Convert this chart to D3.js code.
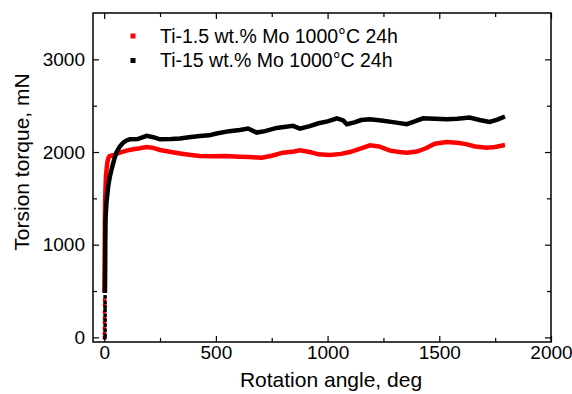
<!DOCTYPE html>
<html>
<head>
<meta charset="utf-8">
<script src="https://cdn.jsdelivr.net/npm/d3@7"></script>
<style>
  body { margin: 0; background: #fff; }
  svg { display: block; font-family: "Liberation Sans", Arial, sans-serif; }
</style>
</head>
<body>
<div id="chart"></div>
<script>
// Ti-1.5 wt.% Mo: sparse start points, then the continuous curve [angle, torque]
const redStart = [[0, 0], [0, 47], [0, 100], [0.5, 165], [0.5, 210], [0.5, 275], [1, 350], [1, 405]]
const redCurve = [[1, 480], [2, 800], [3, 1200], [4, 1455], [6, 1620], [8, 1740], [11, 1820], [15, 1900],
  [20, 1940], [25, 1957], [40, 1965], [70, 1993], [100, 2015], [130, 2029], [160, 2040], [190, 2054],
  [220, 2045], [250, 2022], [300, 2000], [339, 1985], [380, 1970], [428, 1957], [480, 1955], [540, 1958],
  [607, 1950], [650, 1945], [705, 1939], [750, 1960], [800, 1993], [850, 2005], [876, 2018], [920, 2000],
  [960, 1975], [1010, 1967], [1060, 1980], [1100, 2000], [1150, 2040], [1190, 2072], [1230, 2060],
  [1280, 2015], [1320, 2000], [1355, 1993], [1400, 2005], [1440, 2040], [1480, 2090], [1534, 2108],
  [1580, 2100], [1620, 2085], [1660, 2060], [1713, 2047], [1750, 2055], [1794, 2075]]

// Ti-15 wt.% Mo
const blackStart = [[2, 0], [3, 25], [3, 80], [3, 135], [3, 190], [3, 240], [3, 295], [3, 330], [3, 380], [3, 440]]
const blackCurve = [[3.5, 480], [4, 600], [5, 1000], [6, 1270], [10, 1450], [18, 1631], [25, 1730], [33, 1812],
  [45, 1920], [55, 1995], [70, 2060], [85, 2100], [100, 2125], [115, 2137], [150, 2140], [190, 2175],
  [220, 2160], [250, 2137], [300, 2140], [339, 2145], [380, 2160], [428, 2173], [470, 2180], [503, 2199],
  [560, 2225], [607, 2238], [644, 2253], [682, 2210], [720, 2225], [772, 2260], [845, 2282], [876, 2253],
  [920, 2280], [960, 2310], [1000, 2330], [1042, 2364], [1070, 2340], [1086, 2300], [1120, 2320],
  [1150, 2345], [1190, 2353], [1240, 2340], [1300, 2320], [1355, 2300], [1390, 2330], [1427, 2364],
  [1480, 2358], [1534, 2353], [1580, 2360], [1636, 2372], [1680, 2345], [1725, 2325], [1760, 2350], [1794, 2383]]

const xMajor = [0, 500, 1000, 1500, 2000]
const xMinor = [250, 750, 1250, 1750]
const yMajor = [0, 1000, 2000, 3000]
const yMinor = [500, 1500, 2500]

const series = [
  { name: "Ti-1.5 wt.% Mo 1000°C 24h", color: "#ff0000", start: redStart, curve: redCurve },
  { name: "Ti-15 wt.% Mo 1000°C 24h", color: "#000000", start: blackStart, curve: blackCurve },
]

const W = 572, H = 394
const m = { left: 93, top: 13, right: 21, bottom: 52 }
const iw = W - m.left - m.right
const ih = H - m.top - m.bottom

const svg = d3.select("#chart").append("svg").attr("width", W).attr("height", H)
const g = svg.append("g").attr("transform", `translate(${m.left},${m.top})`)

const x = d3.scaleLinear().domain([-50, 2000]).range([0, iw])
const y = d3.scaleLinear().domain([-50, 3500]).range([ih, 0])

const line = d3.line().x((d) => x(d[0])).y((d) => y(d[1]))

series.forEach((s) => {
  g.append("path")
    .datum(s.curve)
    .attr("d", line)
    .attr("fill", "none")
    .attr("stroke", s.color)
    .attr("stroke-width", 4.5)
  g.append("g")
    .selectAll("rect")
    .data(s.start)
    .join("rect")
    .attr("x", (d) => x(d[0]) - 1.5)
    .attr("y", (d) => y(d[1]) - 1.5)
    .attr("width", 3.5)
    .attr("height", 3.5)
    .attr("fill", s.color)
})

// axes, ticks inward on all four sides
function styleAxis(sel) {
  sel.select(".domain").remove()
  sel.selectAll("line").attr("stroke", "#000").attr("stroke-width", 1.2)
  sel.selectAll("text").attr("font-size", "19px").attr("fill", "#000")
}

g.append("g").attr("transform", `translate(0,${ih})`)
  .call(d3.axisBottom(x).tickValues(xMajor).tickSize(-6).tickPadding(4).tickFormat(d3.format("d")))
  .call(styleAxis)
g.append("g").attr("transform", `translate(0,${ih})`)
  .call(d3.axisBottom(x).tickValues(xMinor).tickSize(-4).tickFormat(""))
  .call(styleAxis)
g.append("g")
  .call(d3.axisTop(x).tickValues(xMajor).tickSize(-6).tickFormat(""))
  .call(styleAxis)
g.append("g")
  .call(d3.axisTop(x).tickValues(xMinor).tickSize(-4).tickFormat(""))
  .call(styleAxis)

g.append("g")
  .call(d3.axisLeft(y).tickValues(yMajor).tickSize(-6).tickPadding(8).tickFormat(d3.format("d")))
  .call(styleAxis)
g.append("g")
  .call(d3.axisLeft(y).tickValues(yMinor).tickSize(-4).tickFormat(""))
  .call(styleAxis)
g.append("g").attr("transform", `translate(${iw},0)`)
  .call(d3.axisRight(y).tickValues(yMajor).tickSize(-6).tickFormat(""))
  .call(styleAxis)
g.append("g").attr("transform", `translate(${iw},0)`)
  .call(d3.axisRight(y).tickValues(yMinor).tickSize(-4).tickFormat(""))
  .call(styleAxis)

g.append("rect")
  .attr("width", iw).attr("height", ih)
  .attr("fill", "none").attr("stroke", "#000").attr("stroke-width", 1.5)

// axis titles
svg.append("text")
  .attr("x", 331).attr("y", 387)
  .attr("text-anchor", "middle").attr("font-size", "21px")
  .text("Rotation angle, deg")
svg.append("text")
  .attr("transform", "translate(29,162) rotate(-90)")
  .attr("text-anchor", "middle").attr("font-size", "21px")
  .text("Torsion torque, mN")

// legend
const leg = svg.append("g")
series.forEach((s, i) => {
  leg.append("rect")
    .attr("x", 130.5).attr("y", 33.5 + i * 24.5)
    .attr("width", 5).attr("height", 5)
    .attr("fill", s.color)
  leg.append("text")
    .attr("x", 160).attr("y", 42.5 + i * 24.5)
    .attr("font-size", "19.5px")
    .text(s.name)
})
</script>
</body>
</html>
